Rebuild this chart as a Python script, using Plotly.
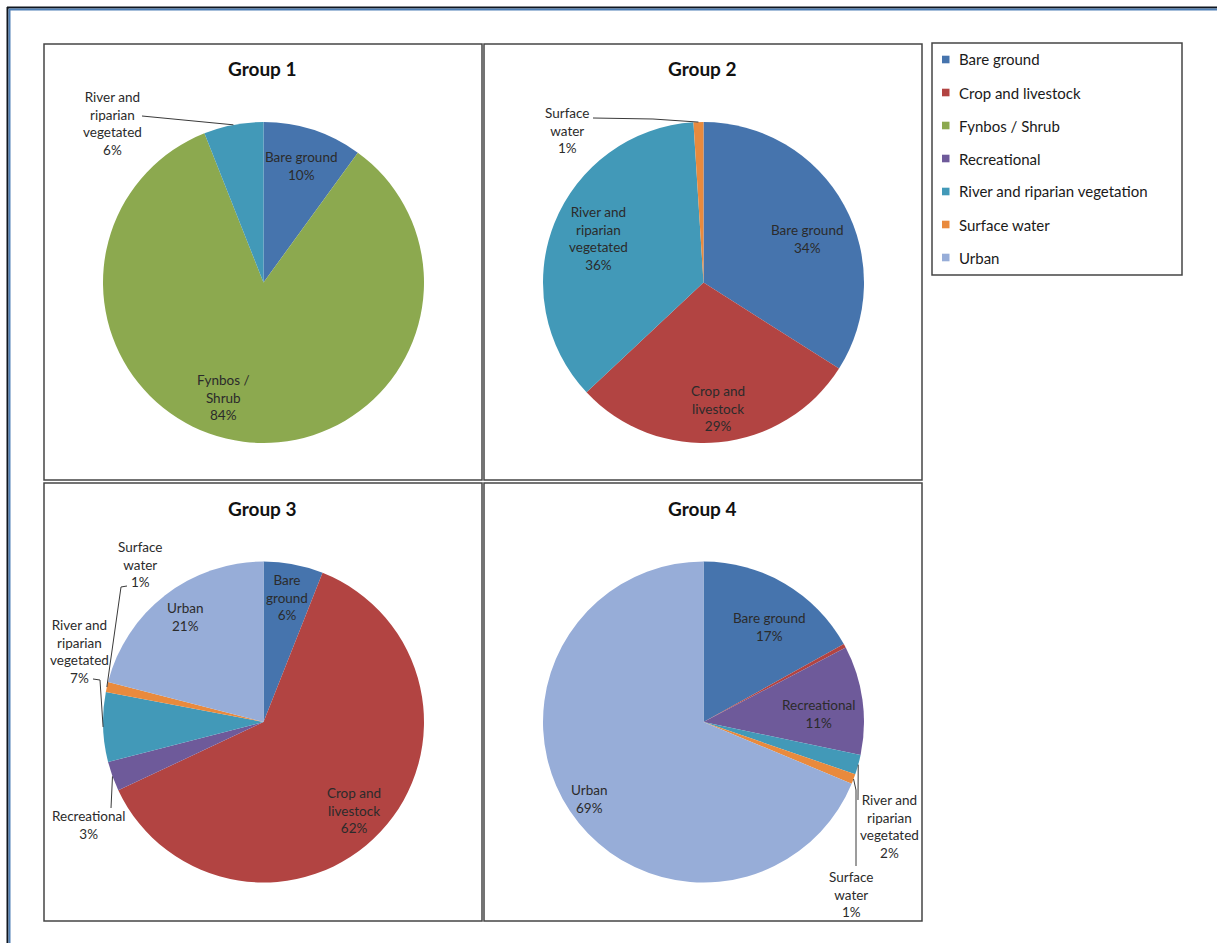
import math
import plotly.graph_objects as go

# ---- data -------------------------------------------------------------
categories = [
    "Bare ground",
    "Crop and livestock",
    "Fynbos / Shrub",
    "Recreational",
    "River and riparian vegetation",
    "Surface water",
    "Urban",
]
group_titles = ["Group 1", "Group 2", "Group 3", "Group 4"]

group1_pct = [10, 0, 84, 0, 6, 0, 0]
group2_pct = [34, 29, 0, 0, 36, 1, 0]
group3_pct = [6, 62, 0, 3, 7, 1, 21]
group4_pct = [17, 0.4, 0, 11, 2, 1, 69]

# ---- styling ----------------------------------------------------------
W, H = 1217, 943
FONT = "Lato, 'Open Sans', sans-serif"
LABEL_COLOR = "#2b2b2b"
LABEL_SIZE = 13.5

colors = {
    "Bare ground": "#4674ad",
    "Crop and livestock": "#b24442",
    "Fynbos / Shrub": "#8ca94f",
    "Recreational": "#6e5a9a",
    "River and riparian vegetation": "#4299b8",
    "Surface water": "#e98a3d",
    "Urban": "#97add8",
}

# wrapped names used in the slice labels
label_names = {
    "Bare ground": "Bare ground",
    "Crop and livestock": "Crop and<br>livestock",
    "Fynbos / Shrub": "Fynbos /<br>Shrub",
    "Recreational": "Recreational",
    "River and riparian vegetation": "River and<br>riparian<br>vegetated",
    "Surface water": "Surface<br>water",
    "Urban": "Urban",
}

# panel frames (pixel boxes) and pie geometry
panels = [(44, 44, 482, 480), (484, 44, 922, 480), (44, 483, 482, 921), (484, 483, 922, 921)]
pie_centers = [(263.5, 282.5), (703.5, 282.5), (263.5, 722.0), (703.5, 722.0)]
RADIUS = 160.5

# label placement per group: inside labels -> ("in", radial fraction, angle tweak)
# outside labels -> ("out", text centre, leader-line waypoints)
placement = [
    {
        "Bare ground": ("in", 0.76, 0),
        "Fynbos / Shrub": ("in", 0.76, 12),
        "River and riparian vegetation": ("out", (113, 123), [(142, 116)]),
    },
    {
        "Bare ground": ("in", 0.70, 6),
        "Crop and livestock": ("in", 0.79, -1),
        "River and riparian vegetation": ("in", 0.71, 1),
        "Surface water": ("out", (567, 131), [(593, 118), (653, 119)]),
    },
    {
        "Bare ground": ("in", 0.79, 0),
        "Crop and livestock": ("in", 0.79, 1),
        "Recreational": ("out", (88, 825), [(111, 808)]),
        "River and riparian vegetation": ("out", (79, 651), [(93, 679), (100, 680)]),
        "Surface water": ("out", (140, 564), [(127, 586), (121, 587)]),
        "Urban": ("in", 0.82, 1),
    },
    {
        "Bare ground": ("in", 0.72, 4),
        "Recreational": ("in", 0.72, 4),
        "River and riparian vegetation": ("out", (889, 826), [(858, 800)]),
        "Surface water": ("out", (851, 894), [(856, 866), (856, 790)]),
        "Urban": ("in", 0.86, 0),
    },
]
wrap_override = {(2, "Bare ground"): "Bare<br>ground"}


def fx(x):
    return x / W


def fy(y):
    return 1 - y / H


fig = go.Figure()
shapes = []
annotations = []

all_groups = [group1_pct, group2_pct, group3_pct, group4_pct]

for gi, values in enumerate(all_groups):
    cx, cy = pie_centers[gi]
    labels = [c for c, v in zip(categories, values) if v > 0]
    vals = [v for v in values if v > 0]

    fig.add_trace(
        go.Pie(
            labels=labels,
            values=vals,
            sort=False,
            direction="clockwise",
            rotation=0,
            marker=dict(colors=[colors[c] for c in labels], line=dict(width=0)),
            textinfo="none",
            hoverinfo="label+percent",
            showlegend=False,
            domain=dict(
                x=[fx(cx - RADIUS), fx(cx + RADIUS)],
                y=[fy(cy + RADIUS), fy(cy - RADIUS)],
            ),
        )
    )

    # slice labels positioned from each slice's mid-angle
    total = sum(vals)
    cum = 0.0
    for name, v in zip(labels, vals):
        mid = (cum + v / 2) / total * 360.0
        cum += v
        if name not in placement[gi]:
            continue
        text = wrap_override.get((gi, name), label_names[name]) + "<br>%d%%" % round(v)
        spec = placement[gi][name]
        if spec[0] == "in":
            frac, tweak = spec[1], spec[2]
            a = math.radians(mid + tweak)
            tx = cx + RADIUS * frac * math.sin(a)
            ty = cy - RADIUS * frac * math.cos(a)
        else:
            tx, ty = spec[1]
            a = math.radians(mid)
            ex = cx + RADIUS * math.sin(a)
            ey = cy - RADIUS * math.cos(a)
            pts = list(spec[2]) + [(ex, ey)]
            path = "M %f,%f " % (fx(pts[0][0]), fy(pts[0][1])) + " ".join(
                "L %f,%f" % (fx(p[0]), fy(p[1])) for p in pts[1:]
            )
            shapes.append(
                dict(type="path", xref="paper", yref="paper", path=path,
                     line=dict(color="#3a3a3a", width=1))
            )
        annotations.append(
            dict(x=fx(tx), y=fy(ty), xref="paper", yref="paper", text=text,
                 showarrow=False, xanchor="center", yanchor="middle",
                 font=dict(family=FONT, size=LABEL_SIZE, color=LABEL_COLOR))
        )

    # panel frame and title
    x0, y0, x1, y1 = panels[gi]
    shapes.append(
        dict(type="rect", xref="paper", yref="paper",
             x0=fx(x0), x1=fx(x1), y0=fy(y1), y1=fy(y0),
             line=dict(color="#454545", width=1.5))
    )
    annotations.append(
        dict(x=fx((x0 + x1) / 2 - 1), y=fy(y0 + 25), xref="paper", yref="paper",
             text="<b>%s</b>" % group_titles[gi], showarrow=False,
             xanchor="center", yanchor="middle",
             font=dict(family=FONT, size=19, color="#111111"))
    )

# legend box drawn from the category list
LEG = (932, 43, 1182, 275)
shapes.append(
    dict(type="rect", xref="paper", yref="paper",
         x0=fx(LEG[0]), x1=fx(LEG[2]), y0=fy(LEG[3]), y1=fy(LEG[1]),
         line=dict(color="#454545", width=1.5))
)
for i, cat in enumerate(categories):
    yc = 59.5 + 33 * i
    shapes.append(
        dict(type="rect", xref="paper", yref="paper",
             x0=fx(942), x1=fx(949.5), y0=fy(yc + 3.8), y1=fy(yc - 3.8),
             fillcolor=colors[cat], line=dict(width=0))
    )
    annotations.append(
        dict(x=fx(957), y=fy(yc), xref="paper", yref="paper", text=cat,
             showarrow=False, xanchor="left", yanchor="middle",
             font=dict(family=FONT, size=15, color="#1a1a1a"))
    )

# outer page frame (top and left edges)
shapes += [
    dict(type="line", xref="paper", yref="paper", x0=fx(7), x1=1, y0=fy(7.5), y1=fy(7.5),
         line=dict(color="#10161f", width=2)),
    dict(type="line", xref="paper", yref="paper", x0=fx(9), x1=1, y0=fy(9.5), y1=fy(9.5),
         line=dict(color="#4f7fb5", width=2)),
    dict(type="line", xref="paper", yref="paper", x0=fx(7.5), x1=fx(7.5), y0=0, y1=fy(7),
         line=dict(color="#10161f", width=2)),
    dict(type="line", xref="paper", yref="paper", x0=fx(9.5), x1=fx(9.5), y0=0, y1=fy(9),
         line=dict(color="#4f7fb5", width=2)),
]

fig.update_layout(
    width=W,
    height=H,
    autosize=False,
    margin=dict(l=0, r=0, t=0, b=0),
    paper_bgcolor="white",
    plot_bgcolor="white",
    shapes=shapes,
    annotations=annotations,
    font=dict(family=FONT),
)

fig.write_html("out.html")
